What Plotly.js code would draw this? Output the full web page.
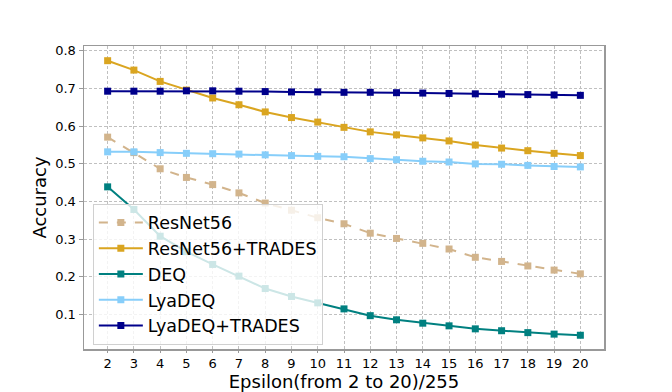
<!DOCTYPE html>
<html><head><meta charset="utf-8">
<script src="https://cdn.plot.ly/plotly-3.0.1.min.js"></script>
<style>html,body{margin:0;padding:0;background:#fff;}#chart{width:672px;height:392px;}</style>
</head><body><div id="chart"></div>
<script>
const epsilon = [2,3,4,5,6,7,8,9,10,11,12,13,14,15,16,17,18,19,20];
const resnet56 = [0.571,0.530,0.487,0.464,0.445,0.423,0.396,0.377,0.357,0.341,0.316,0.302,0.289,0.274,0.252,0.241,0.229,0.218,0.208];
const resnet56Trades = [0.774,0.749,0.719,0.696,0.675,0.657,0.638,0.623,0.611,0.597,0.585,0.577,0.569,0.561,0.550,0.542,0.535,0.528,0.522];
const deq = [0.439,0.379,0.308,0.267,0.233,0.202,0.169,0.148,0.131,0.115,0.097,0.086,0.077,0.070,0.062,0.057,0.052,0.048,0.045];
const lyaDeq = [0.532,0.532,0.530,0.528,0.527,0.526,0.524,0.522,0.520,0.519,0.514,0.511,0.507,0.505,0.500,0.499,0.496,0.493,0.492];
const lyaDeqTrades = [0.693,0.693,0.693,0.694,0.694,0.693,0.692,0.691,0.691,0.690,0.690,0.689,0.688,0.687,0.686,0.685,0.684,0.683,0.682];
const names = ['ResNet56','ResNet56+TRADES','DEQ','LyaDEQ','LyaDEQ+TRADES'];
const colors = ['#D2B48C','#DAA520','#008080','#87CEFA','#00008B'];
const series = [resnet56, resnet56Trades, deq, lyaDeq, lyaDeqTrades];
const dashes = ['dash','solid','solid','solid','solid'];

const traces = series.map((s,i)=>({
  x: epsilon, y: s, type:'scatter', mode:'lines+markers', name: names[i],
  line:{color:colors[i], width:2, dash:dashes[i]},
  marker:{symbol:'square', size:7, color:colors[i]}
}));

const layout = {
  width:672, height:392,
  margin:{l:84, r:68, t:46, b:43},
  paper_bgcolor:'#fff', plot_bgcolor:'#fff',
  font:{family:'DejaVu Sans', color:'#000'},
  showlegend:true,
  legend:{x:0.017, y:0.48, xanchor:'left', yanchor:'top',
    bgcolor:'rgba(255,255,255,0.8)', bordercolor:'#d0d0d0', borderwidth:1,
    font:{size:17.5, family:'DejaVu Sans'}, tracegroupgap:0, itemwidth:44},
  xaxis:{range:[1.1,20.9], tickvals:epsilon, ticktext:epsilon.map(String),
    showgrid:true, gridcolor:'#c0c0c0', griddash:'3px,2px', gridwidth:1,
    zeroline:false, showline:true, linecolor:'#999', linewidth:1.5, mirror:true,
    ticks:'outside', ticklen:2, tickcolor:'#999',
    tickfont:{size:13, family:'DejaVu Sans'},
    title:{text:'Epsilon(from 2 to 20)/255', font:{size:18, family:'DejaVu Sans'}, standoff:2}},
  yaxis:{range:[0.0085,0.813], tickvals:[0.1,0.2,0.3,0.4,0.5,0.6,0.7,0.8],
    ticktext:['0.1','0.2','0.3','0.4','0.5','0.6','0.7','0.8'],
    showgrid:true, gridcolor:'#c0c0c0', griddash:'3px,2px', gridwidth:1,
    zeroline:false, showline:true, linecolor:'#999', linewidth:1.5, mirror:true,
    ticks:'outside', ticklen:4, tickcolor:'#999',
    tickfont:{size:13, family:'DejaVu Sans'},
    title:{text:'Accuracy', font:{size:18, family:'DejaVu Sans'}, standoff:4}}
};
Plotly.newPlot('chart', traces, layout, {displayModeBar:false, staticPlot:true});
</script></body></html>
